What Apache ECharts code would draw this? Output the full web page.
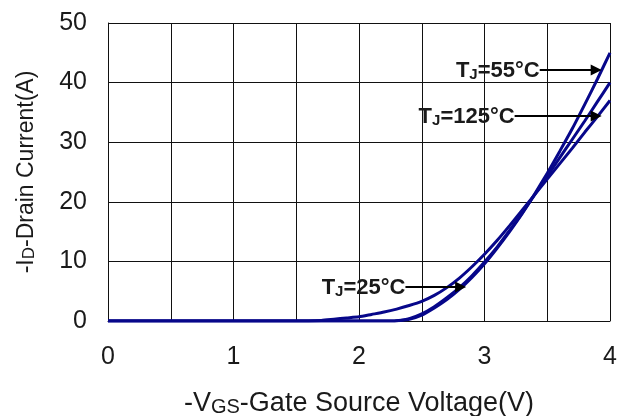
<!DOCTYPE html>
<html>
<head>
<meta charset="utf-8">
<script src="https://cdn.jsdelivr.net/npm/echarts@6/dist/echarts.min.js"></script>
<style>
  html, body { margin: 0; padding: 0; background: #fff; }
  #chart { width: 625px; height: 416px; }
</style>
</head>
<body>
<div id="chart"></div>
<script>
// Gate-source voltage samples (V), shared by all three curves
const vgs = [0, 0.5, 1.0, 1.5, 1.7, 1.8, 1.9, 2.0, 2.1, 2.2, 2.3, 2.4, 2.5, 2.6,
             2.7, 2.8, 2.9, 3.0, 3.1, 3.2, 3.3, 3.4, 3.5, 3.6, 3.7, 3.8, 3.9, 4.0];
// Drain current (A) at each junction temperature
const id25  = [0, 0, 0, 0, 0, 0, 0, 0, 0, 0, 0.05, 0.3, 1.0, 2.2,
               3.6, 5.3, 7.3, 9.6, 12.2, 15.0, 18.0, 21.3, 24.8, 28.5, 32.3, 36.4, 40.6, 45.0];
const id55  = [0, 0, 0, 0, 0, 0, 0, 0, 0, 0, 0.05, 0.4, 1.2, 2.4,
               3.9, 5.6, 7.6, 9.9, 12.4, 15.2, 18.1, 21.2, 24.3, 27.4, 30.5, 33.6, 36.8, 40.0];
const id125 = [0, 0, 0, 0, 0.1, 0.3, 0.5, 0.7, 1.1, 1.5, 2.0, 2.6, 3.3, 4.3,
               5.6, 7.2, 9.1, 11.2, 13.5, 16.0, 18.6, 21.2, 23.8, 26.4, 29.0, 31.7, 34.3, 37.0];

// Axis ticks
const xTicks = [0, 1, 2, 3, 4];
const yTicks = [0, 10, 20, 30, 40, 50];

// Curve call-outs: temperature label, arrow start / end (V) and level (A)
const calloutTemps = ['55', '125', '25'];
const calloutFrom  = [3.44, 3.24, 2.37];
const calloutTo    = [3.89, 3.89, 2.81];
const calloutLevel = [42.1, 34.4, 5.7];

const pairs = ys => vgs.map((v, i) => [v, ys[i]]);

const navy = '#07078a';
const ink = '#1a1a1a';
const font = 'Liberation Sans, Arial, sans-serif';

const curve = (name, ys) => ({
  name: name,
  type: 'line',
  data: pairs(ys),
  showSymbol: false,
  smooth: 0.2,
  lineStyle: { color: navy, width: 3 },
  itemStyle: { color: navy },
  z: 3
});

const calloutLines = calloutTemps.map((t, i) => [
  {
    coord: [calloutFrom[i], calloutLevel[i]],
    symbol: 'none',
    label: { formatter: '{t|T}{j|J}{t|=' + t + '°C}' }
  },
  { coord: [calloutTo[i], calloutLevel[i]], symbol: 'triangle', symbolSize: 11 }
]);

const chart = echarts.init(document.getElementById('chart'), null, { renderer: 'canvas' });
chart.setOption({
  animation: false,
  backgroundColor: '#fff',
  grid: { left: 108, right: 15, top: 23, bottom: 95, outerBoundsMode: 'none', containLabel: false },
  xAxis: {
    type: 'value',
    min: 0, max: 4, interval: 0.5,
    name: '{n|-V}{s|GS}{n|-Gate Source Voltage(V)}',
    nameLocation: 'middle',
    nameGap: 66,
    nameTextStyle: {
      rich: {
        n: { fontFamily: font, fontSize: 27, color: ink, verticalAlign: 'bottom', lineHeight: 30 },
        s: { fontFamily: font, fontSize: 20, color: ink, verticalAlign: 'bottom', lineHeight: 30 }
      }
    },
    axisLine: { show: true, lineStyle: { color: '#111', width: 1 } },
    axisTick: { show: false },
    splitLine: { show: true, lineStyle: { color: '#111', width: 1 } },
    axisLabel: {
      fontFamily: font, fontSize: 25, color: ink, margin: 24,
      formatter: v => (xTicks.indexOf(v) >= 0 ? String(v) : '')
    }
  },
  yAxis: {
    type: 'value',
    min: 0, max: 50, interval: 10,
    name: '{n|-I}{s|D}{n|-Drain Current(A)}',
    nameLocation: 'middle',
    nameGap: 70,
    nameRotate: 90,
    nameTextStyle: {
      rich: {
        n: { fontFamily: font, fontSize: 23, color: ink, verticalAlign: 'bottom', lineHeight: 26 },
        s: { fontFamily: font, fontSize: 17, color: ink, verticalAlign: 'bottom', lineHeight: 26 }
      }
    },
    axisLine: { show: true, lineStyle: { color: '#111', width: 1 } },
    axisTick: { show: false },
    splitLine: { show: true, lineStyle: { color: '#111', width: 1 } },
    axisLabel: {
      fontFamily: font, fontSize: 25, color: ink, margin: 21,
      formatter: v => (yTicks.indexOf(v) >= 0 ? String(v) : '')
    }
  },
  series: [
    curve('TJ=25°C', id25),
    curve('TJ=55°C', id55),
    curve('TJ=125°C', id125),
    {
      type: 'line',
      data: [],
      z: 4,
      markLine: {
        silent: true,
        animation: false,
        symbol: ['none', 'triangle'],
        lineStyle: { color: '#000', width: 2, type: 'solid' },
        emphasis: { disabled: true },
        label: {
          show: true,
          position: 'start',
          distance: 0,
          rich: {
            t: { fontFamily: font, fontSize: 22, fontWeight: 'bold', color: ink, verticalAlign: 'bottom', lineHeight: 24 },
            j: { fontFamily: font, fontSize: 15, fontWeight: 'bold', color: ink, verticalAlign: 'bottom', lineHeight: 22 }
          }
        },
        data: calloutLines
      }
    }
  ]
});
</script>
</body>
</html>
